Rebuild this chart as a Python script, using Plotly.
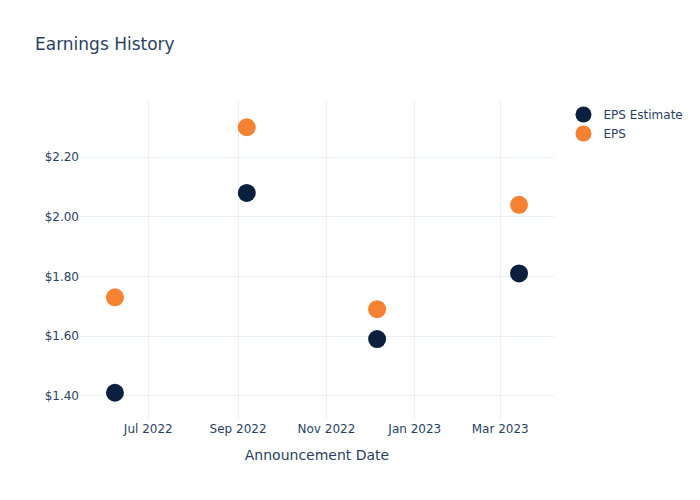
import plotly.graph_objects as go

dates = ["2022-06-08", "2022-09-07", "2022-12-06", "2023-03-14"]
eps_estimate = [1.41, 2.08, 1.59, 1.81]
eps_actual = [1.73, 2.30, 1.69, 2.04]

fig = go.Figure()
fig.add_trace(go.Scatter(x=dates, y=eps_estimate, mode="markers", name="EPS Estimate",
                         marker=dict(color="#0b1f3f", size=18)))
fig.add_trace(go.Scatter(x=dates, y=eps_actual, mode="markers", name="EPS",
                         marker=dict(color="#f58232", size=18)))
fig.update_layout(
    template="plotly_white",
    width=700, height=500,
    font=dict(family="DejaVu Sans"),
    title=dict(text="Earnings History"),
    xaxis=dict(title=dict(text="Announcement Date")),
    yaxis=dict(tickprefix="$", tickformat=".2f"),
)
fig.write_html("out.html")
